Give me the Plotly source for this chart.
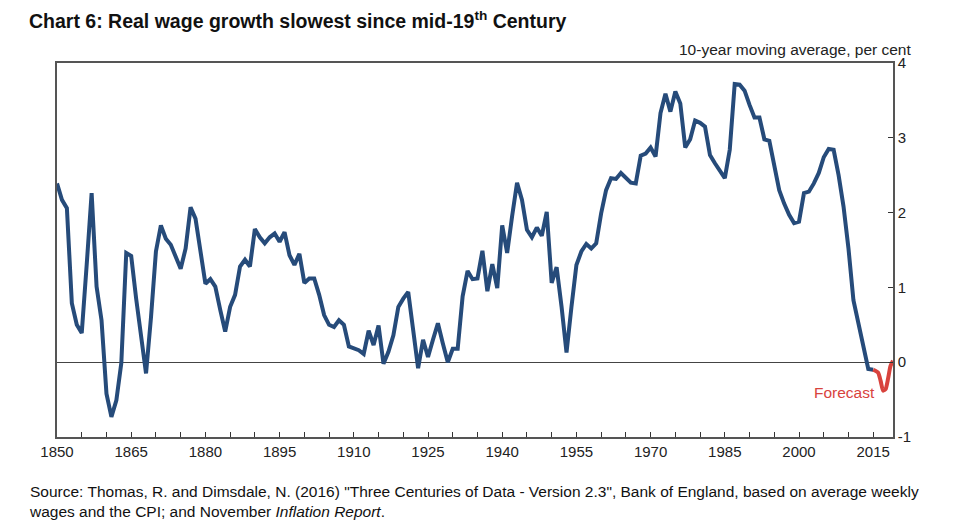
import plotly.graph_objects as go

# Historic series: 10-year moving average of real wage growth, per cent (annual)
hist_years = list(range(1850, 2016))
hist_values = [
    2.39, 2.17, 2.06, 0.79, 0.50, 0.39, 1.30, 2.26, 1.01, 0.56,   # 1850-1859
    -0.42, -0.73, -0.51, -0.01, 1.46, 1.42, 0.85, 0.35, -0.15, 0.60,  # 1860-1869
    1.48, 1.83, 1.65, 1.57, 1.40, 1.25, 1.52, 2.07, 1.92, 1.50,   # 1870-1879
    1.05, 1.11, 1.01, 0.70, 0.41, 0.74, 0.90, 1.28, 1.37, 1.28,   # 1880-1889
    1.78, 1.67, 1.59, 1.67, 1.72, 1.61, 1.74, 1.43, 1.30, 1.45,   # 1890-1899
    1.06, 1.12, 1.12, 0.90, 0.63, 0.50, 0.47, 0.56, 0.50, 0.21,   # 1900-1909
    0.18, 0.16, 0.11, 0.42, 0.23, 0.49, -0.02, 0.14, 0.36, 0.74,  # 1910-1919
    0.85, 0.94, 0.43, -0.08, 0.30, 0.07, 0.30, 0.52, 0.25, 0.00,  # 1920-1929
    0.18, 0.18, 0.88, 1.22, 1.11, 1.12, 1.49, 0.95, 1.31, 0.99,   # 1930-1939
    1.83, 1.46, 1.95, 2.40, 2.17, 1.77, 1.67, 1.80, 1.69, 2.01,   # 1940-1949
    1.06, 1.27, 0.74, 0.13, 0.74, 1.30, 1.48, 1.58, 1.52, 1.59,   # 1950-1959
    1.99, 2.30, 2.46, 2.45, 2.53, 2.46, 2.40, 2.39, 2.76, 2.79,   # 1960-1969
    2.87, 2.75, 3.33, 3.59, 3.35, 3.62, 3.46, 2.87, 2.98, 3.23,   # 1970-1979
    3.20, 3.15, 2.77, 2.66, 2.57, 2.46, 2.84, 3.72, 3.71, 3.63,   # 1980-1989
    3.44, 3.27, 3.27, 2.98, 2.96, 2.61, 2.30, 2.12, 1.97, 1.86,   # 1990-1999
    1.88, 2.26, 2.28, 2.39, 2.53, 2.74, 2.85, 2.84, 2.50, 2.08,   # 2000-2009
    1.52, 0.83, 0.52, 0.21, -0.09, -0.10,                         # 2010-2015
]

# Forecast series
fc_years = [2015, 2016, 2016.5, 2017, 2017.5, 2018, 2018.5, 2019]
fc_values = [-0.10, -0.14, -0.25, -0.38, -0.36, -0.22, -0.05, 0.02]

x_tick_vals = list(range(1850, 2016, 15))
x_tick_text = [str(v) for v in x_tick_vals]
y_tick_vals = [-1, 0, 1, 2, 3, 4]
y_tick_text = [str(v) for v in y_tick_vals]

BLUE = "#264B7A"
RED = "#D8433D"
FONT = "Liberation Sans, Arial, sans-serif"

fig = go.Figure()
fig.add_trace(go.Scatter(x=hist_years, y=hist_values, mode="lines",
                         line=dict(color=BLUE, width=4), showlegend=False,
                         hoverinfo="x+y"))
fig.add_trace(go.Scatter(x=fc_years, y=fc_values, mode="lines",
                         line=dict(color=RED, width=4, shape="spline", smoothing=0.6),
                         showlegend=False, hoverinfo="x+y"))

fig.update_layout(
    width=952, height=518,
    margin=dict(l=49, r=67, t=55, b=89),
    paper_bgcolor="white", plot_bgcolor="white",
    font=dict(family=FONT, size=15, color="#222222"),
    showlegend=False,
    xaxis=dict(
        range=[1850, 2019], tickvals=x_tick_vals, ticktext=x_tick_text,
        ticks="inside", ticklen=5, tickcolor="#333333", tickwidth=1,
        minor=dict(dtick=5, tick0=1850, ticks="inside", ticklen=5, tickcolor="#333333"),
        showgrid=False, zeroline=False,
        showline=True, linecolor="#555555", linewidth=1.5, mirror=True,
        tickfont=dict(size=15, family=FONT, color="#222222"),
    ),
    yaxis=dict(
        range=[-1, 4], tickvals=y_tick_vals, ticktext=y_tick_text, side="right",
        ticks="inside", ticklen=5, tickcolor="#333333",
        showgrid=False, zeroline=True, zerolinecolor="#444444", zerolinewidth=1,
        showline=True, linecolor="#555555", linewidth=1.5, mirror=True,
        tickfont=dict(size=15, family=FONT, color="#222222"),
    ),
)

fig.add_annotation(xref="paper", yref="paper", x=-0.0359, y=1.0, yshift=43,
                   xanchor="left", yanchor="middle", showarrow=False,
                   text="<b>Chart 6: Real wage growth slowest since mid-19<sup>th</sup> Century</b>",
                   font=dict(size=19.5, family=FONT, color="#111111"))
fig.add_annotation(xref="paper", yref="paper", x=1.0, y=1.0, yshift=3, xshift=20,
                   xanchor="right", yanchor="bottom", showarrow=False,
                   text="10-year moving average, per cent",
                   font=dict(size=15.5, family=FONT, color="#222222"))
fig.add_annotation(xref="x", yref="y", x=2015.7, y=-0.41,
                   xanchor="right", yanchor="middle", showarrow=False,
                   text="Forecast", font=dict(size=15.5, family=FONT, color=RED))
fig.add_annotation(xref="paper", yref="paper", x=-0.0359, y=0, yshift=-44,
                   xanchor="left", yanchor="top", showarrow=False, align="left",
                   text=("Source: Thomas, R. and Dimsdale, N. (2016) \"Three Centuries of Data - Version 2.3\", "
                         "Bank of England, based on average weekly<br>wages and the CPI; and November "
                         "<i>Inflation Report</i>."),
                   font=dict(size=15.5, family=FONT, color="#111111"))

fig.write_html("out.html")
